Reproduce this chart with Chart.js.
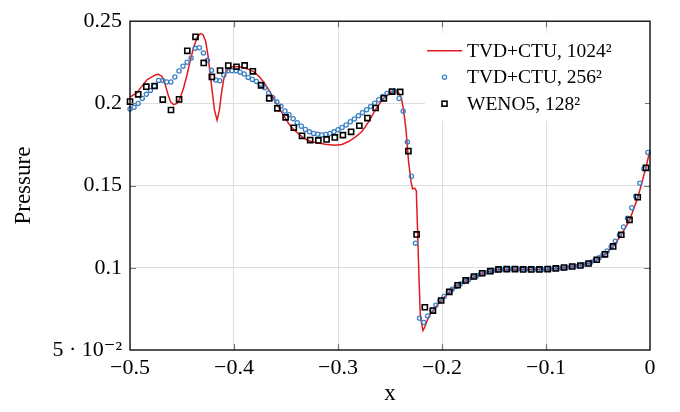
<!DOCTYPE html>
<html>
<head>
<meta charset="utf-8">
<script src="https://cdn.jsdelivr.net/npm/chart.js@4.4.1/dist/chart.umd.min.js"></script>
<style>
  html, body { margin: 0; padding: 0; background: #ffffff; }
  #wrap { width: 680px; height: 412px; }
</style>
</head>
<body>
<div id="wrap"><canvas id="c" width="680" height="412"></canvas></div>
<script>
// ---------------- data ----------------
const seriesLabels = ['TVD+CTU, 1024²', 'TVD+CTU, 256²', 'WENO5, 128²'];

const xTicks = [-0.5, -0.4, -0.3, -0.2, -0.1, 0];
const yTicks = [0.05, 0.1, 0.15, 0.2, 0.25];

// TVD+CTU 1024^2 (solid red line)
const redX = [-0.5000,-0.4933,-0.4885,-0.4837,-0.4798,-0.4757,-0.4725,-0.4692,-0.4661,-0.4635,
  -0.4612,-0.4581,-0.4548,-0.4516,-0.4485,-0.4452,-0.4420,-0.4388,-0.4356,-0.4324,
  -0.4298,-0.4273,-0.4250,-0.4228,-0.4206,-0.4187,-0.4163,-0.4141,-0.4122,-0.4100,
  -0.4074,-0.4045,-0.4004,-0.3956,-0.3908,-0.3860,-0.3812,-0.3763,-0.3715,-0.3667,
  -0.3619,-0.3571,-0.3523,-0.3475,-0.3427,-0.3379,-0.3331,-0.3266,-0.3202,-0.3122,
  -0.3026,-0.2962,-0.2898,-0.2834,-0.2769,-0.2706,-0.2641,-0.2577,-0.2513,-0.2465,
  -0.2423,-0.2391,-0.2369,-0.2346,-0.2321,-0.2298,-0.2283,-0.2263,-0.2247,-0.2235,
  -0.2221,-0.2209,-0.2196,-0.2183,-0.2167,-0.2144,-0.2113,-0.2081,-0.2048,-0.2007,
  -0.1930,-0.1853,-0.1771,-0.1689,-0.1613,-0.1536,-0.1459,-0.1343,-0.1151,-0.0959,
  -0.0863,-0.0748,-0.0595,-0.0512,-0.0433,-0.0354,-0.0276,-0.0196,-0.0117,-0.0040,0.0000];
const redY = [0.2038,0.2065,0.2105,0.2144,0.2158,0.2173,0.2177,0.2164,0.2114,0.2055,
  0.2012,0.1992,0.2000,0.2035,0.2094,0.2173,0.2262,0.2341,0.2400,0.2425,
  0.2419,0.2380,0.2291,0.2173,0.2055,0.1957,0.1898,0.1957,0.2055,0.2144,
  0.2193,0.2217,0.2224,0.2223,0.2217,0.2207,0.2193,0.2167,0.2130,0.2084,
  0.2031,0.1976,0.1927,0.1878,0.1842,0.1815,0.1789,0.1770,0.1760,0.1752,
  0.1745,0.1750,0.1768,0.1795,0.1829,0.1888,0.1960,0.2020,0.2059,0.2075,
  0.2071,0.2035,0.1957,0.1839,0.1642,0.1524,0.1480,0.1484,0.1469,0.1228,
  0.0933,0.0717,0.0658,0.0618,0.0638,0.0677,0.0718,0.0745,0.0772,0.0803,
  0.0852,0.0892,0.0922,0.0946,0.0965,0.0979,0.0988,0.0991,0.0990,0.0991,
  0.0997,0.1008,0.1026,0.1048,0.1082,0.1130,0.1200,0.1290,0.1428,0.1608,0.1715];

// TVD+CTU 256^2 (blue circles)
const blueX = [-0.5000,-0.4961,-0.4922,-0.4882,-0.4843,-0.4804,-0.4765,-0.4725,-0.4686,-0.4647,
  -0.4608,-0.4569,-0.4529,-0.4490,-0.4451,-0.4412,-0.4373,-0.4333,-0.4294,-0.4255,
  -0.4216,-0.4176,-0.4137,-0.4098,-0.4059,-0.4020,-0.3980,-0.3941,-0.3902,-0.3863,
  -0.3824,-0.3784,-0.3745,-0.3706,-0.3667,-0.3627,-0.3588,-0.3549,-0.3510,-0.3471,
  -0.3431,-0.3392,-0.3353,-0.3314,-0.3275,-0.3235,-0.3196,-0.3157,-0.3118,-0.3078,
  -0.3039,-0.3000,-0.2961,-0.2922,-0.2882,-0.2843,-0.2804,-0.2765,-0.2725,-0.2686,
  -0.2647,-0.2608,-0.2569,-0.2529,-0.2490,-0.2451,-0.2412,-0.2373,-0.2333,-0.2294,
  -0.2255,-0.2216,-0.2176,-0.2137,-0.2098,-0.2059,-0.2020,-0.1980,-0.1941,-0.1902,
  -0.1863,-0.1824,-0.1784,-0.1745,-0.1706,-0.1667,-0.1627,-0.1588,-0.1549,-0.1510,
  -0.1471,-0.1431,-0.1392,-0.1353,-0.1314,-0.1275,-0.1235,-0.1196,-0.1157,-0.1118,
  -0.1078,-0.1039,-0.1000,-0.0961,-0.0922,-0.0882,-0.0843,-0.0804,-0.0765,-0.0725,
  -0.0686,-0.0647,-0.0608,-0.0569,-0.0529,-0.0490,-0.0451,-0.0412,-0.0373,-0.0333,
  -0.0294,-0.0255,-0.0216,-0.0176,-0.0137,-0.0098,-0.0059,-0.0020];
const blueY = [0.1966,0.1976,0.2000,0.2030,0.2055,0.2079,0.2105,0.2140,0.2140,0.2130,
  0.2130,0.2161,0.2197,0.2226,0.2250,0.2276,0.2335,0.2339,0.2307,0.2262,
  0.2201,0.2142,0.2138,0.2173,0.2199,0.2199,0.2199,0.2190,0.2179,0.2158,
  0.2146,0.2133,0.2117,0.2095,0.2064,0.2035,0.2008,0.1982,0.1954,0.1931,
  0.1907,0.1883,0.1861,0.1841,0.1827,0.1817,0.1812,0.1808,0.1811,0.1817,
  0.1827,0.1840,0.1853,0.1869,0.1888,0.1905,0.1925,0.1943,0.1961,0.1981,
  0.2001,0.2022,0.2042,0.2060,0.2071,0.2074,0.2030,0.1952,0.1765,0.1557,
  0.1150,0.0693,0.0668,0.0707,0.0742,0.0772,0.0799,0.0825,0.0852,0.0870,
  0.0886,0.0901,0.0916,0.0928,0.0942,0.0952,0.0962,0.0970,0.0977,0.0983,
  0.0987,0.0990,0.0991,0.0992,0.0992,0.0992,0.0991,0.0991,0.0990,0.0990,
  0.0990,0.0990,0.0991,0.0992,0.0994,0.0997,0.0999,0.1002,0.1005,0.1009,
  0.1013,0.1018,0.1024,0.1033,0.1046,0.1061,0.1080,0.1102,0.1128,0.1162,
  0.1199,0.1248,0.1301,0.1366,0.1435,0.1514,0.1603,0.1701];

// WENO5 128^2 (black squares)
const wenoX = [-0.5000,-0.4921,-0.4843,-0.4764,-0.4685,-0.4606,-0.4528,-0.4449,-0.4370,-0.4291,
  -0.4213,-0.4134,-0.4055,-0.3976,-0.3898,-0.3819,-0.3740,-0.3661,-0.3583,-0.3504,
  -0.3425,-0.3346,-0.3268,-0.3189,-0.3110,-0.3031,-0.2953,-0.2874,-0.2795,-0.2717,
  -0.2638,-0.2559,-0.2480,-0.2402,-0.2323,-0.2244,-0.2165,-0.2087,-0.2008,-0.1929,
  -0.1850,-0.1772,-0.1693,-0.1614,-0.1535,-0.1457,-0.1378,-0.1299,-0.1220,-0.1142,
  -0.1063,-0.0984,-0.0906,-0.0827,-0.0748,-0.0669,-0.0591,-0.0512,-0.0433,-0.0354,
  -0.0276,-0.0197,-0.0118,-0.0039];
const wenoY = [0.2011,0.2055,0.2102,0.2106,0.2023,0.1960,0.2025,0.2320,0.2405,0.2246,
  0.2161,0.2200,0.2230,0.2223,0.2231,0.2195,0.2110,0.2031,0.1970,0.1915,
  0.1852,0.1803,0.1777,0.1775,0.1781,0.1793,0.1807,0.1827,0.1864,0.1911,
  0.1972,0.2031,0.2072,0.2070,0.1710,0.1203,0.0760,0.0740,0.0801,0.0854,
  0.0894,0.0923,0.0947,0.0967,0.0980,0.0990,0.0992,0.0992,0.0990,0.0990,
  0.0990,0.0992,0.0996,0.1002,0.1008,0.1014,0.1026,0.1049,0.1082,0.1130,
  0.1201,0.1291,0.1429,0.1608];

// ---------------- chart ----------------
const SERIF = '"Liberation Serif", "DejaVu Serif", serif';
const pts = (xs, ys) => xs.map((x, i) => ({ x: x, y: ys[i] }));

function fmtNum(v) {
  const r = Math.round(v * 100) / 100;
  if (r === 0) return '0';
  return (r < 0 ? '\u2212' : '') + String(Math.abs(r));
}

const frameTicks = {
  id: 'frameTicks',
  afterDatasetsDraw(chart) {
    const ctx = chart.ctx, a = chart.chartArea;
    const xs = chart.scales.x, ys = chart.scales.y;
    ctx.save();
    ctx.strokeStyle = '#777777';
    ctx.lineWidth = 1.2;
    const L = 6;
    ctx.beginPath();
    xTicks.forEach(v => {
      const px = Math.round(xs.getPixelForValue(v)) + 0.5;
      if (px < a.left + 2 || px > a.right - 2) return;
      ctx.moveTo(px, a.bottom); ctx.lineTo(px, a.bottom - L);
      ctx.moveTo(px, a.top); ctx.lineTo(px, a.top + L);
    });
    yTicks.forEach(v => {
      const py = Math.round(ys.getPixelForValue(v)) + 0.5;
      if (py < a.top + 2 || py > a.bottom - 2) return;
      ctx.moveTo(a.left, py); ctx.lineTo(a.left + L, py);
      ctx.moveTo(a.right, py); ctx.lineTo(a.right - L, py);
    });
    ctx.stroke();
    ctx.restore();
  },
  afterDraw(chart) {
    const ctx = chart.ctx, a = chart.chartArea;
    const ds = chart.data.datasets;
    ctx.save();
    // legend (inside plot, top right)
    const bx = a.left + 295, by = a.top + 12, bw = 220, bh = 88;
    ctx.fillStyle = '#ffffff';
    ctx.fillRect(bx, by, bw, bh);
    const rows = [by + 17.5, by + 44, by + 70.5];
    const mx = bx + 19.5;
    const tx = bx + 42;
    ctx.strokeStyle = ds[0].borderColor; ctx.lineWidth = 1.6;
    ctx.beginPath(); ctx.moveTo(bx + 2, rows[0]); ctx.lineTo(bx + 37, rows[0]); ctx.stroke();
    ctx.strokeStyle = ds[1].borderColor; ctx.lineWidth = 1.3;
    ctx.beginPath(); ctx.arc(mx, rows[1], 2.1, 0, Math.PI * 2); ctx.stroke();
    ctx.strokeStyle = ds[2].borderColor; ctx.lineWidth = 1.6;
    ctx.strokeRect(mx - 2.5, rows[2] - 2.5, 5, 5);
    ctx.fillStyle = '#000000';
    ctx.font = '19.5px ' + SERIF;
    ctx.textBaseline = 'middle';
    ctx.textAlign = 'left';
    for (let i = 0; i < 3; i++) ctx.fillText(ds[i].label, tx, rows[i] + 1);
    // frame
    ctx.strokeStyle = '#000000';
    ctx.lineWidth = 1.3;
    ctx.strokeRect(a.left, a.top, a.right - a.left, a.bottom - a.top);
    ctx.restore();
  }
};

new Chart(document.getElementById('c'), {
  type: 'scatter',
  data: {
    datasets: [
      {
        label: seriesLabels[0],
        data: pts(redX, redY),
        showLine: true,
        borderColor: '#e3191f',
        backgroundColor: '#e3191f',
        borderWidth: 1.5,
        pointRadius: 0,
        tension: 0,
        order: 2
      },
      {
        label: seriesLabels[1],
        data: pts(blueX, blueY),
        showLine: false,
        borderColor: '#3c80c4',
        backgroundColor: 'rgba(255,255,255,0)',
        pointStyle: 'circle',
        pointRadius: 2.1,
        pointBorderWidth: 1.3,
        clip: false,
        order: 1
      },
      {
        label: seriesLabels[2],
        data: pts(wenoX, wenoY),
        showLine: false,
        borderColor: '#000000',
        backgroundColor: 'rgba(255,255,255,0)',
        pointStyle: 'rect',
        pointRadius: 3.6,
        pointBorderWidth: 1.6,
        clip: false,
        order: 0
      }
    ]
  },
  options: {
    responsive: false,
    animation: false,
    devicePixelRatio: 1,
    layout: { padding: { top: 11, right: 30, left: 0, bottom: 0 } },
    plugins: {
      legend: { display: false },
      tooltip: { enabled: false }
    },
    scales: {
      x: {
        type: 'linear',
        min: -0.5, max: 0,
        afterBuildTicks: s => { s.ticks = xTicks.map(v => ({ value: v })); },
        afterFit: s => { s.height = 62; },
        grid: { color: '#dedede', lineWidth: 1, drawTicks: false },
        border: { display: false },
        ticks: {
          padding: 5,
          color: '#000000',
          maxRotation: 0,
          font: { family: SERIF, size: 22 },
          callback: v => fmtNum(v)
        },
        title: {
          display: true, text: 'x', color: '#000000',
          font: { family: SERIF, size: 23 },
          padding: { top: 0, bottom: 4 }
        }
      },
      y: {
        type: 'linear',
        min: 0.05, max: 0.25,
        afterBuildTicks: s => { s.ticks = yTicks.map(v => ({ value: v })); },
        afterFit: s => { s.width = 130; },
        grid: { color: '#dedede', lineWidth: 1, drawTicks: false },
        border: { display: false },
        ticks: {
          padding: 8,
          color: '#000000',
          font: { family: SERIF, size: 22 },
          callback: v => (Math.abs(v - 0.05) < 1e-9 ? '5 \u00B7 10\u207B\u00B2' : fmtNum(v))
        },
        title: {
          display: true, text: 'Pressure', color: '#000000',
          font: { family: SERIF, size: 23 },
          padding: { top: 10, bottom: 0 }
        }
      }
    }
  },
  plugins: [frameTicks]
});
</script>
</body>
</html>
